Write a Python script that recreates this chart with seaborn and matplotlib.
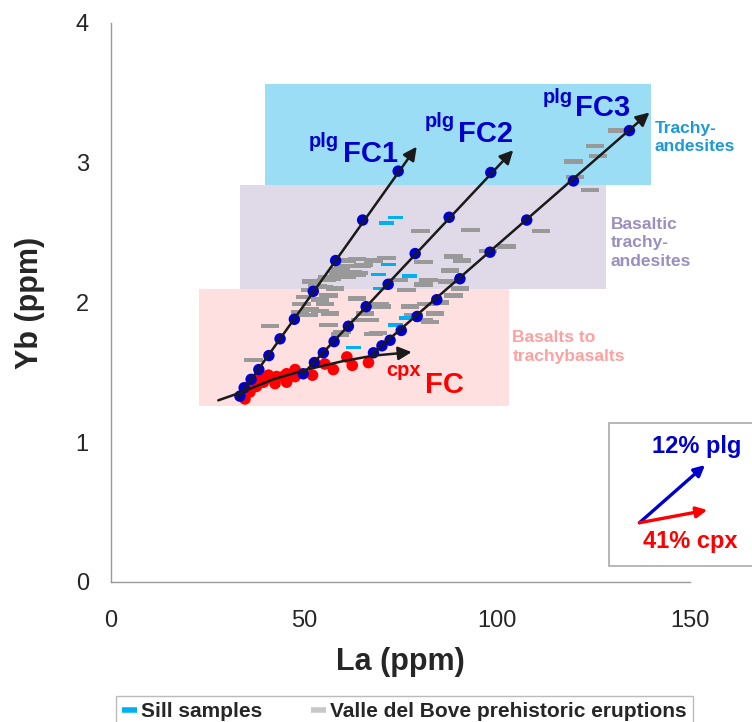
import numpy as np
import pandas as pd
import matplotlib
matplotlib.use('Agg')
import matplotlib.pyplot as plt
import seaborn as sns
from matplotlib.patches import Rectangle
from matplotlib.lines import Line2D

sns.set_style('white')
plt.rcParams['font.family'] = ['Liberation Sans', 'DejaVu Sans']

# model curves (blue dots on plagioclase FC lines)
fc1_la = [33.4, 34.5, 36.3, 38.3, 40.9, 43.8, 47.5, 52.4, 58.2, 65.2, 74.4]
fc1_yb = [1.33, 1.39, 1.45, 1.52, 1.62, 1.74, 1.88, 2.08, 2.30, 2.59, 2.94]
fc2_la = [49.8, 52.7, 55.0, 57.8, 61.5, 66.1, 71.8, 78.8, 87.6, 98.4]
fc2_yb = [1.49, 1.57, 1.64, 1.72, 1.83, 1.97, 2.13, 2.35, 2.61, 2.93]
fc3_la = [68.0, 70.2, 72.3, 75.2, 79.3, 84.4, 90.4, 98.2, 107.7, 119.8, 134.3]
fc3_yb = [1.64, 1.69, 1.73, 1.80, 1.90, 2.02, 2.17, 2.36, 2.59, 2.87, 3.23]

# cpx FC model (red dots)
cpx_la = [34.3, 34.7, 35.2, 36.0, 36.4, 37.7, 38.2, 39.5, 40.8, 41.6, 42.5, 42.9,
          44.6, 45.5, 45.5, 47.7, 47.7, 52.2, 55.4, 57.6, 61.1, 62.5, 66.7]
cpx_yb = [1.34, 1.31, 1.39, 1.36, 1.42, 1.40, 1.46, 1.43, 1.48, 1.46, 1.42, 1.47,
          1.47, 1.49, 1.43, 1.52, 1.47, 1.48, 1.56, 1.52, 1.61, 1.55, 1.57]

# cpx FC trend curve
cpx_line_la = [27.8, 34.0, 42.0, 50.7, 60.0, 68.0, 77.9]
cpx_line_yb = [1.30, 1.36, 1.45, 1.52, 1.58, 1.62, 1.645]

# arrow start/end of plg FC trends
fc_starts = [(32.9, 1.317), (49.8, 1.49), (68.0, 1.64)]
fc_ends = [(79.2, 3.115), (104.2, 3.09), (139.5, 3.36)]

# Valle del Bove prehistoric eruptions
vdb_la = [80.1, 93.2, 97.7, 102.5, 88.7, 90.9, 80.9, 63.7, 68.0, 71.4, 65.0, 87.8,
          59.3, 63.7, 74.4, 82.2, 80.9, 87.0, 90.4, 57.2, 52.0, 55.0, 76.6, 58.0,
          51.6, 50.3, 63.7, 56.3, 49.4, 55.4, 69.7, 81.8, 85.2, 49.0, 54.1, 70.1,
          77.5, 83.9, 80.9, 68.0, 65.8, 56.3, 59.8, 64.5, 41.2, 36.9, 55.9, 54.1,
          51.6, 56.7, 51.1, 67.1, 61.1, 60.2, 65.4, 58.9, 61.1, 64.1, 69.2, 59.3,
          88.7, 78.3, 82.6, 53.5, 56.0, 59.5, 62.5, 131.2, 125.4, 126.2, 119.9,
          120.2, 124.1, 111.4]
vdb_yb = [2.51, 2.52, 2.37, 2.40, 2.33, 2.30, 2.29, 2.31, 2.30, 2.32, 2.26, 2.23,
          2.20, 2.20, 2.16, 2.16, 2.13, 2.15, 2.10, 2.17, 2.15, 2.11, 2.09, 2.10,
          2.09, 2.04, 2.03, 2.05, 1.99, 1.99, 1.99, 1.99, 2.00, 1.93, 1.94, 1.97,
          1.97, 1.92, 1.875, 1.775, 1.92, 1.84, 1.79, 1.875, 1.83, 1.59, 2.16, 2.02,
          1.95, 1.92, 1.91, 1.875, 2.30, 2.26, 2.27, 2.21, 2.185, 2.21, 1.78, 1.77,
          2.05, 1.91, 1.86, 2.12, 2.18, 2.24, 2.22, 3.23, 3.12, 3.05, 3.01,
          2.90, 2.805, 2.51]

# sill samples
sill_la = [73.6, 71.4, 71.8, 69.2, 77.3, 69.7, 76.6, 73.6, 62.8]
sill_yb = [2.61, 2.57, 2.27, 2.20, 2.19, 2.10, 1.89, 1.84, 1.68]

# rock classification fields: (La min, La max, Yb min, Yb max)
fields = {
    'Trachy-\nandesites': (40, 140, 2.84, 3.56),
    'Basaltic\ntrachy-\nandesites': (33.4, 128.2, 2.10, 2.84),
    'Basalts to\ntrachybasalts': (22.9, 103.2, 1.26, 2.10),
}
field_fill = ['#9BDDF5', '#DFD9E8', '#FFE0E0']
field_text = ['#1B9AD6', '#9A8FBF', '#FFA0A0']
field_label_pos = [(140.9, 3.30), (129.4, 2.615), (104.0, 1.80)]

blue = '#0000CC'
red = '#FF0000'

fig = plt.figure(figsize=(7.52, 7.22), dpi=100)
ax = fig.add_axes([111 / 752, 1 - 582 / 722, (690 - 111) / 752, (582 - 23) / 722])

for (name, (x0, x1, y0, y1)), fc, tc, (tx, ty) in zip(fields.items(), field_fill, field_text, field_label_pos):
    ax.add_patch(Rectangle((x0, y0), x1 - x0, y1 - y0, facecolor=fc, edgecolor='none', zorder=0))
    ax.text(tx, ty, name, color=tc, fontsize=12.5, fontweight='bold', ha='left', va='top',
            linespacing=1.3, clip_on=False)

gray_bar = [(-2.1, -0.5), (2.1, -0.5), (2.1, 0.5), (-2.1, 0.5)]
cyan_bar = [(-2.25, -0.5), (2.25, -0.5), (2.25, 0.5), (-2.25, 0.5)]

sns.scatterplot(x=vdb_la, y=vdb_yb, marker=gray_bar, s=180, color='#999999',
                linewidth=0, edgecolor='none', ax=ax, zorder=2)
sns.scatterplot(x=sill_la, y=sill_yb, marker=cyan_bar, s=117, color='#00B0F0',
                linewidth=0, edgecolor='none', ax=ax, zorder=3)
sns.scatterplot(x=cpx_la, y=cpx_yb, s=70, color=red, linewidth=0, edgecolor='none', ax=ax, zorder=4)

fc_df = pd.DataFrame({
    'La': fc1_la + fc2_la + fc3_la,
    'Yb': fc1_yb + fc2_yb + fc3_yb,
})
sns.scatterplot(data=fc_df, x='La', y='Yb', s=68, color=blue, linewidth=0, edgecolor='none', ax=ax, zorder=5)

arrow_kw = dict(arrowstyle='-|>', color='#1a1a1a', lw=1.8, mutation_scale=20, shrinkA=0, shrinkB=0)
for (x0, y0), (x1, y1) in zip(fc_starts, fc_ends):
    ax.annotate('', xy=(x1, y1), xytext=(x0, y0), arrowprops=arrow_kw, zorder=6)

sns.lineplot(x=cpx_line_la[:-1], y=cpx_line_yb[:-1], color='#1a1a1a', lw=1.8, sort=False, ax=ax, zorder=6)
ax.annotate('', xy=(cpx_line_la[-1], cpx_line_yb[-1]), xytext=(cpx_line_la[-2], cpx_line_yb[-2]),
            arrowprops=arrow_kw, zorder=6)

# FC labels
fc_labels = [('plg', 'FC1', 59.1, 3.113, 60.0, 3.005, blue),
             ('plg', 'FC2', 89.1, 3.256, 89.9, 3.148, blue),
             ('plg', 'FC3', 119.6, 3.425, 120.2, 3.335, blue),
             ('cpx', 'FC', 80.4, 1.474, 81.3, 1.352, red)]
for sup, main, sx, sy, mx, my, c in fc_labels:
    ax.text(sx, sy, sup, color=c, fontsize=14.5, fontweight='bold', ha='right', va='baseline')
    ax.text(mx, my, main, color=c, fontsize=21, fontweight='bold', ha='left', va='baseline')

# inset: mineral vectors
ax.add_patch(Rectangle((129, 0.114), 41, 1.022, facecolor='white', edgecolor='#AAAAAA',
                       lw=1.2, clip_on=False, zorder=1))
ax.annotate('', xy=(153.9, 0.837), xytext=(136.9, 0.424), annotation_clip=False,
            arrowprops=dict(arrowstyle='-|>', color=blue, lw=2.4, mutation_scale=16, shrinkA=0, shrinkB=0))
ax.annotate('', xy=(154.5, 0.515), xytext=(136.9, 0.424), annotation_clip=False,
            arrowprops=dict(arrowstyle='-|>', color=red, lw=2.4, mutation_scale=16, shrinkA=0, shrinkB=0))
ax.text(140.1, 0.923, '12% plg', color=blue, fontsize=17, fontweight='bold', ha='left', va='baseline', clip_on=False)
ax.text(137.8, 0.243, '41% cpx', color=red, fontsize=17, fontweight='bold', ha='left', va='baseline', clip_on=False)

ax.set_xlim(0, 150)
ax.set_ylim(0, 4)
ax.set_xticks([0, 50, 100, 150])
ax.set_yticks([0, 1, 2, 3, 4])
ax.set_xlabel('')
ax.set_ylabel('')
for side in ['top', 'right']:
    ax.spines[side].set_visible(False)
for side in ['left', 'bottom']:
    ax.spines[side].set_color('#999999')
    ax.spines[side].set_linewidth(1.0)
ax.tick_params(axis='x', direction='out', length=5, width=1, color='#999999', pad=15, labelsize=17)
ax.tick_params(axis='y', direction='out', length=6, width=1, color='#999999', pad=10, labelsize=17)
ax.set_facecolor('none')

fig.text(400 / 752, 1 - 662 / 722, 'La (ppm)', ha='center', va='center', fontsize=22, fontweight='bold')
fig.text(30 / 752, 1 - 303 / 722, 'Yb (ppm)', ha='center', va='center', fontsize=22,
         fontweight='bold', rotation=90)

handles = [Line2D([0], [0], color='#00B0F0', lw=4, solid_capstyle='butt'),
           Line2D([0], [0], color='#C8C8C8', lw=4, solid_capstyle='butt')]
leg = fig.legend(handles, ['Sill samples', 'Valle del Bove prehistoric eruptions'],
                 loc='upper left', bbox_to_anchor=(116 / 752, 1 - 696 / 722), ncol=2,
                 frameon=True, fancybox=False, edgecolor='#AAAAAA', borderaxespad=0,
                 handlelength=0.7, handletextpad=0.2, columnspacing=2.35, borderpad=0.3,
                 prop={'size': 15, 'weight': 'bold'})
leg.get_frame().set_linewidth(1.0)

fig.savefig('out.png', dpi=100)
